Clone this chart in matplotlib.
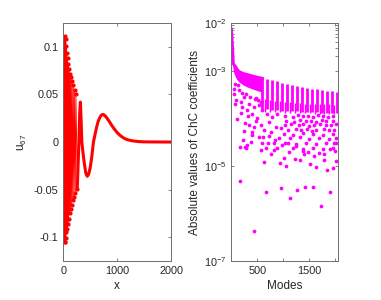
import numpy as np
import matplotlib
matplotlib.use("Agg")
import matplotlib.pyplot as plt
from matplotlib.ticker import FixedLocator

plt.rcParams["font.family"] = ["Liberation Sans", "DejaVu Sans"]
plt.rcParams["mathtext.default"] = "regular"
plt.rcParams["axes.unicode_minus"] = False

RED = "#ff0000"
MAGENTA = "#ff00ff"
INK = "#262626"

# left panel: oscillating part (extrema)
osc_x = [6, 10, 14, 18, 22, 27, 32, 37, 42, 48, 54, 60, 66, 73, 80, 87,
         94, 102, 110, 118, 127, 136, 145, 155, 165, 176, 187, 199, 211, 223, 236, 260]
osc_y = [0.085, -0.095, 0.104, -0.102, 0.109, -0.105, 0.111, -0.105, 0.108, -0.101,
         0.101, -0.095, 0.094, -0.091, 0.088, -0.086, 0.082, -0.081, 0.077, -0.075,
         0.072, -0.070, 0.068, -0.066, 0.064, -0.061, 0.060, -0.058, 0.055, -0.054,
         0.050, -0.049]

# left panel: smooth tail
tail_x = [260, 275, 290, 305, 318, 332, 345, 370, 395, 420, 445, 470, 500, 530, 560,
          590, 620, 650, 680, 710, 735, 760, 800, 850, 900, 950, 1000, 1050, 1100,
          1150, 1200, 1300, 1400, 1500, 1700, 2000]
tail_y = [-0.049, -0.025, 0.0, 0.030, 0.042, 0.022, 0.0, -0.013, -0.024, -0.033, -0.036,
          -0.034, -0.027, -0.015, 0.0, 0.008, 0.016, 0.022, 0.026, 0.0285, 0.029,
          0.0285, 0.026, 0.022, 0.0175, 0.0135, 0.0100, 0.0072, 0.0050, 0.0034,
          0.0023, 0.0011, 0.0005, 0.0002, 0.0001, 0.0]

# right panel: dense head near mode 0 (log10 of the values)
head_x = [2, 6, 13, 20, 26, 32, 38, 60, 85, 104, 150, 231, 300, 400, 500, 596]
head_top = [-2.13, -2.22, -2.32, -2.45, -2.57, -2.72, -2.85, -2.89, -2.92, -2.96,
            -3.02, -3.06, -3.08, -3.11, -3.14, -3.16]
head_bot = [-2.20, -2.40, -2.60, -2.75, -2.85, -2.95, -3.00, -3.08, -3.14, -3.18,
            -3.24, -3.30, -3.34, -3.38, -3.42, -3.45]

# right panel: comb columns
col_x = [596, 692, 788, 884, 980, 1076, 1172, 1268, 1364, 1460, 1556, 1652,
         1748, 1844, 1940, 2036]
col_top = [-3.16, -3.18, -3.20, -3.22, -3.25, -3.28, -3.30, -3.32, -3.34, -3.36,
           -3.38, -3.39, -3.41, -3.42, -3.43, -3.44]
col_bot = [-3.80, -3.80, -3.82, -3.82, -3.84, -3.84, -3.85, -3.85, -3.86, -3.86,
           -3.87, -3.87, -3.88, -3.88, -3.88, -3.88]
mid_x = [644, 740, 836, 932, 1028, 1124, 1220, 1316, 1412, 1508, 1604, 1700,
         1796, 1892, 1988]
mid_top = [-3.60, -3.62, -3.63, -3.64, -3.65, -3.66, -3.67, -3.68, -3.69, -3.69,
           -3.70, -3.70, -3.71, -3.71, -3.72]
mid_bot = [-3.86, -3.86, -3.87, -3.87, -3.88, -3.88, -3.88, -3.89, -3.89, -3.89,
           -3.90, -3.90, -3.90, -3.90, -3.90]

# right panel: scattered coefficients below the comb
dot_x = [52, 46, 135, 97, 180, 244, 212, 340, 308, 437, 533, 405, 597, 501, 693,
         789, 885, 725, 340, 437, 565, 244, 629, 853, 950, 405, 533, 725, 918, 225,
         373, 597, 821, 982, 276, 661, 885,
         1026, 1186, 1282, 1379, 1475, 1571, 1667, 1763, 1859, 1956,
         1058, 1218, 1315, 1443, 1539, 1635, 1750, 1827, 1968,
         1026, 1154, 1302, 1391, 1507, 1603, 1712, 1827, 1923, 2020,
         1090, 1238, 1347, 1456, 1558, 1635, 1795, 1891, 1988,
         1013, 1186, 1379, 1571, 1763, 1956,
         1122, 1315, 1507, 1699, 1891, 2020,
         1026, 1250, 1443, 1635, 1827, 1988,
         1186, 1379, 1571, 1763, 1956,
         161, 270, 296, 565, 629, 700, 770, 815, 930, 1007, 1052, 1096, 1231, 1321,
         1373, 1469, 1519, 1623, 1681, 1788, 1840, 1962, 2019, 1904, 2013,
         173, 442, 667, 962, 1135, 1276, 1424, 1571, 1738, 1898,
         120, 260, 390, 470, 620, 760, 840, 1120, 1250, 1410, 1600, 1790, 1990,
         80, 150, 210, 290, 360, 450, 520, 580, 70, 190, 320, 480]
dot_exp = [-3.39, -3.50, -3.30, -3.62, -3.65, -3.55, -3.76, -3.69, -3.83, -3.76,
           -3.72, -3.90, -3.83, -4.00, -3.90, -3.97, -3.90, -4.07, -4.14, -4.18,
           -4.14, -4.26, -4.25, -4.18, -4.21, -4.35, -4.39, -4.37, -4.42, -4.46,
           -4.49, -4.53, -4.51, -4.56, -4.63, -4.63, -4.63,
           -3.95, -3.97, -3.94, -3.96, -3.95, -3.98, -3.94, -3.96, -3.97, -3.95,
           -4.05, -4.07, -4.04, -4.06, -4.05, -4.08, -4.04, -4.06, -4.05,
           -4.14, -4.12, -4.15, -4.13, -4.16, -4.14, -4.12, -4.15, -4.14, -4.13,
           -4.24, -4.22, -4.25, -4.23, -4.26, -4.24, -4.22, -4.25, -4.24,
           -4.33, -4.35, -4.32, -4.34, -4.36, -4.33,
           -4.42, -4.40, -4.43, -4.41, -4.44, -4.42,
           -4.53, -4.55, -4.52, -4.54, -4.53, -4.51,
           -4.63, -4.65, -4.62, -4.64, -4.63,
           -4.61, -4.61, -4.56, -4.66, -4.91, -4.52, -4.75, -4.67, -4.93, -4.84,
           -5.00, -4.51, -4.86, -4.87, -4.68, -4.70, -4.97, -5.03, -4.73, -4.76,
           -5.08, -5.05, -4.90, -4.65, -4.51,
           -5.31, -6.37, -5.55, -5.46, -5.67, -5.51, -5.45, -5.44, -5.84, -5.56,
           -4.02, -4.10, -4.28, -4.05, -4.40, -4.28, -4.46, -4.70, -4.58, -4.76,
           -4.80, -4.88, -4.68,
           -3.28, -3.40, -3.46, -3.50, -3.56, -3.60, -3.62, -3.66, -3.70, -3.88,
           -3.96, -3.58]


def style(ax):
    for s in ax.spines.values():
        s.set_color("#6e6e6e")
        s.set_linewidth(0.7)
    ax.tick_params(which="both", direction="in", length=2.5, width=0.6,
                   colors="#6e6e6e", labelcolor=INK, labelsize=7.8,
                   top=True, right=True)


fig = plt.figure(figsize=(3.81, 3.0), dpi=100)

ax1 = fig.add_axes([0.166, 0.13, 0.283, 0.793])
ax1.plot(osc_x, osc_y, ".-", color=RED, lw=0.6, ms=4)
ax1.plot(tail_x, tail_y, color=RED, lw=2.2, solid_capstyle="round")
ax1.set_xlim(0, 2000)
ax1.set_ylim(-0.125, 0.125)
ax1.set_xticks([0, 1000, 2000])
ax1.set_xticklabels(["0", "1000", "2000"])
ax1.set_yticks([-0.1, -0.05, 0, 0.05, 0.1])
ax1.set_yticklabels(["-0.1", "-0.05", "0", "0.05", "0.1"])
ax1.set_xlabel("x", fontsize=8.5, color=INK, labelpad=3)
ax1.set_ylabel("$u_{67}$", fontsize=8.5, color=INK, labelpad=3)
style(ax1)

ax2 = fig.add_axes([0.607, 0.13, 0.279, 0.793])
ax2.set_yscale("log")
ax2.fill_between(head_x, 10.0 ** np.array(head_bot), 10.0 ** np.array(head_top),
                 color=MAGENTA, lw=0)
ax2.plot(head_x, 10.0 ** np.array(head_top), color=MAGENTA, lw=2.2)
ax2.vlines(col_x, 10.0 ** np.array(col_bot), 10.0 ** np.array(col_top),
           color=MAGENTA, lw=2.0)
ax2.vlines(mid_x, 10.0 ** np.array(mid_bot), 10.0 ** np.array(mid_top),
           color=MAGENTA, lw=1.0)
ax2.plot(dot_x, 10.0 ** np.array(dot_exp), "o", color=MAGENTA, ms=2.7, mew=0)
ax2.set_xlim(0, 2048)
ax2.set_ylim(1e-7, 1e-2)
ax2.xaxis.set_major_locator(FixedLocator([500, 1500]))
ax2.xaxis.set_minor_locator(FixedLocator([1000, 2000]))
ax2.set_xticklabels(["500", "1500"])
ax2.yaxis.set_major_locator(FixedLocator([1e-7, 1e-5, 1e-3, 1e-2]))
ax2.yaxis.set_minor_locator(FixedLocator([k * 1e-3 for k in range(2, 10)]))
ax2.set_yticklabels(["$10^{-7}$", "$10^{-5}$", "$10^{-3}$", "$10^{-2}$"])
ax2.set_xlabel("Modes", fontsize=8.5, color=INK, labelpad=3)
ax2.set_ylabel("Absolute values of ChC coefficients", fontsize=8.5, color=INK,
               labelpad=2)
style(ax2)

fig.savefig("out.png", dpi=100)
